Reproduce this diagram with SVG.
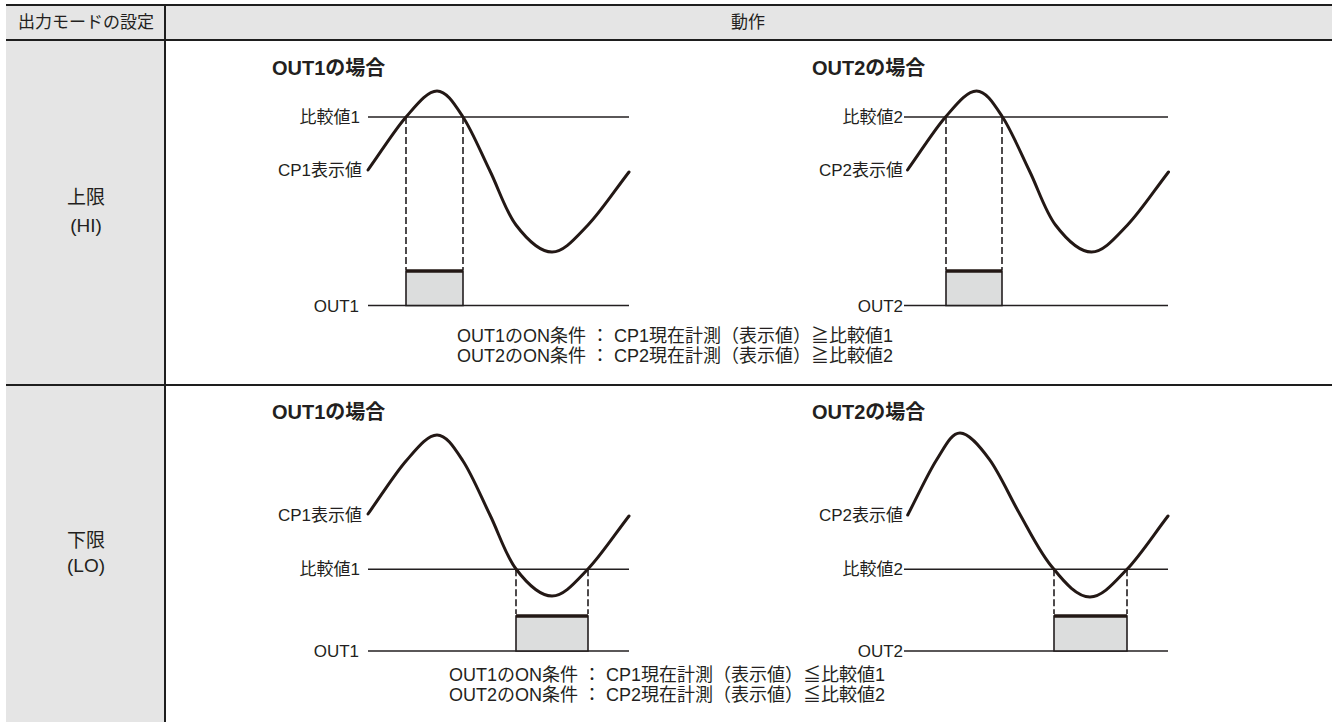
<svg xmlns="http://www.w3.org/2000/svg" width="1336" height="722" viewBox="0 0 1336 722">
<defs>
<style>
.bg{fill:#e5e5e5}
.tbl{stroke:#1e1e1e;stroke-width:2;fill:none}
.t{font-family:"Liberation Sans","Noto Sans CJK JP",sans-serif;fill:#231f20}
.hd{font-size:17px}
.mode{font-size:19px;text-anchor:middle}
.ttl{font-size:20px;font-weight:bold}
.lbl{font-size:17px;text-anchor:end}
.cond{font-size:18px}
.ax{stroke:#231f20;stroke-width:1.6;fill:none}
.wave{stroke:#231815;stroke-width:3;fill:none;stroke-linecap:round}
.dash{stroke:#231f20;stroke-width:1.6;stroke-dasharray:7 3;fill:none}
.box{fill:#dcdddd;stroke:#231f20;stroke-width:1.6}
.bar{stroke:#231815;stroke-width:3.5}
</style>
<path id="waveA" d="M368,170 C380.7,152.3 394.5,130.2 406,117 C417.5,103.8 427.5,91 437,91 C446.5,91 454.2,103.7 463,117 C471.8,130.3 481.2,153 490,171 C498.8,189 505.7,211.5 516,225 C526.3,238.5 540,252 552,252 C564,252 575.2,238.3 588,225 C600.8,211.7 615.3,189.7 629,172"/>
</defs>

<g id="table">
<rect class="bg" x="6" y="5" width="1326" height="35"/>
<rect class="bg" x="6" y="40" width="159" height="682"/>
<line class="tbl" x1="6" y1="5" x2="1332" y2="5"/>
<line class="tbl" x1="6" y1="40" x2="1332" y2="40"/>
<line class="tbl" x1="6" y1="385" x2="1332" y2="385"/>
<line class="tbl" x1="165" y1="5" x2="165" y2="722"/>
<text class="t hd" x="86" y="28" text-anchor="middle">出力モードの設定</text>
<text class="t hd" x="748" y="28" text-anchor="middle">動作</text>
</g>

<g id="mode-hi">
<text class="t mode" x="86" y="204">上限</text>
<text class="t mode" x="86" y="232">(HI)</text>
</g>
<g id="mode-lo">
<text class="t mode" x="86" y="547">下限</text>
<text class="t mode" x="86" y="572">(LO)</text>
</g>

<g id="hi-out1">
<text class="t ttl" x="272" y="75">OUT1の場合</text>
<line class="ax" x1="368" y1="117" x2="629" y2="117"/>
<line class="ax" x1="368" y1="305.5" x2="629" y2="305.5"/>
<line class="dash" x1="406" y1="117" x2="406" y2="270"/>
<line class="dash" x1="463" y1="117" x2="463" y2="270"/>
<rect class="box" x="406" y="271" width="57" height="34.5"/>
<line class="bar" x1="406" y1="271" x2="463" y2="271"/>
<use href="#waveA" class="wave"/>
<text class="t lbl" x="360" y="123">比較値1</text>
<text class="t lbl" x="362" y="176">CP1表示値</text>
<text class="t lbl" x="359" y="311.5">OUT1</text>
</g>

<g id="hi-out2">
<text class="t ttl" x="812" y="75">OUT2の場合</text>
<line class="ax" x1="904" y1="117" x2="1168" y2="117"/>
<line class="ax" x1="904" y1="305.5" x2="1168" y2="305.5"/>
<line class="dash" x1="946" y1="117" x2="946" y2="270"/>
<line class="dash" x1="1002" y1="117" x2="1002" y2="270"/>
<rect class="box" x="946" y="271" width="56" height="34.5"/>
<line class="bar" x1="946" y1="271" x2="1002" y2="271"/>
<use href="#waveA" class="wave" transform="translate(539.5,0)"/>
<text class="t lbl" x="903" y="123">比較値2</text>
<text class="t lbl" x="903" y="176">CP2表示値</text>
<text class="t lbl" x="903" y="311.5">OUT2</text>
</g>

<g id="hi-cond">
<text class="t cond" x="457" y="341.5">OUT1のON条件 ： CP1現在計測（表示値）≧比較値1</text>
<text class="t cond" x="457" y="361.5">OUT2のON条件 ： CP2現在計測（表示値）≧比較値2</text>
</g>

<g id="lo-out1">
<text class="t ttl" x="272" y="419">OUT1の場合</text>
<line class="ax" x1="368" y1="569.3" x2="629" y2="569.3"/>
<line class="ax" x1="368" y1="651" x2="629" y2="651"/>
<line class="dash" x1="516" y1="569.3" x2="516" y2="614"/>
<line class="dash" x1="588" y1="569.3" x2="588" y2="614"/>
<rect class="box" x="516" y="616" width="72" height="35"/>
<line class="bar" x1="516" y1="616" x2="588" y2="616"/>
<use href="#waveA" class="wave" transform="translate(0,344)"/>
<text class="t lbl" x="362" y="521">CP1表示値</text>
<text class="t lbl" x="360" y="575">比較値1</text>
<text class="t lbl" x="359" y="657">OUT1</text>
</g>

<g id="lo-out2">
<text class="t ttl" x="812" y="419">OUT2の場合</text>
<line class="ax" x1="904" y1="569.3" x2="1168" y2="569.3"/>
<line class="ax" x1="904" y1="651" x2="1168" y2="651"/>
<line class="dash" x1="1054" y1="569.3" x2="1054" y2="614"/>
<line class="dash" x1="1127" y1="569.3" x2="1127" y2="614"/>
<rect class="box" x="1054" y="616" width="73" height="35"/>
<line class="bar" x1="1054" y1="616" x2="1127" y2="616"/>
<path class="wave" d="M907.7,515 C917.3,496.7 927.8,473.7 936.5,460 C945.2,446.3 951.2,433 960,433 C968.8,433 979.4,445.8 989.4,459.4 C999.4,473 1009.6,496.2 1020,514.5 C1030.4,532.8 1041.3,555.6 1054,569.3 C1065,583 1077.5,597 1090,597 C1102.5,597 1114,582.8 1127,569.3 C1140,555.8 1154.3,533.8 1168,516"/>
<text class="t lbl" x="903" y="521">CP2表示値</text>
<text class="t lbl" x="903" y="575">比較値2</text>
<text class="t lbl" x="903" y="657">OUT2</text>
</g>

<g id="lo-cond">
<text class="t cond" x="449" y="680.5">OUT1のON条件 ： CP1現在計測（表示値）≦比較値1</text>
<text class="t cond" x="449" y="700.5">OUT2のON条件 ： CP2現在計測（表示値）≦比較値2</text>
</g>
</svg>
